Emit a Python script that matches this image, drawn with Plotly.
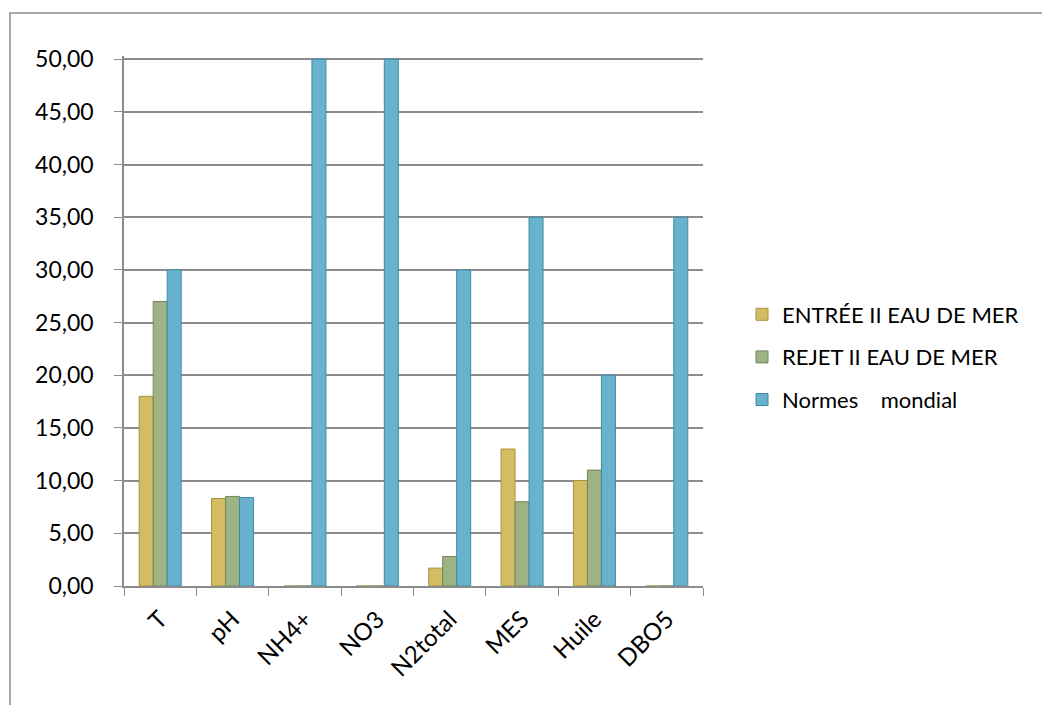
import plotly.graph_objects as go

categories = ["T", "pH", "NH4+", "NO3", "N2total", "MES", "Huile", "DBO5"]
entree = [18.0, 8.3, 0.0, 0.0, 1.7, 13.0, 10.0, 0.0]
rejet = [27.0, 8.5, 0.0, 0.0, 2.8, 8.0, 11.0, 0.0]
normes = [30.0, 8.4, 50.0, 50.0, 30.0, 35.0, 20.0, 35.0]
series_names = ["ENTRÉE II EAU DE MER", "REJET II EAU DE MER", "Normes    mondial"]
y_ticks = [0, 5, 10, 15, 20, 25, 30, 35, 40, 45, 50]

colors = ["#D3BD62", "#9DB383", "#69B2CE"]
edge = ["#A8943E", "#71875A", "#3F8AA6"]

W, H = 1042, 705
L, R, T, B = 124, 339, 56, 119

fig = go.Figure()
for i, (name, vals) in enumerate(zip(series_names, [entree, rejet, normes])):
    fig.add_trace(go.Bar(
        x=categories, y=vals, name=name,
        marker=dict(color=colors[i], line=dict(color=edge[i], width=1)),
        legendgroup=f"g{i}",
    ))

pw = W - L - R
ph = H - T - B

def px_x(p):
    return (p - L) / pw

def px_y(p):
    return (H - B - p) / ph

fig.add_shape(type="rect", xref="paper", yref="paper",
              x0=px_x(10), x1=px_x(1060), y0=px_y(13), y1=px_y(720),
              line=dict(color="#8C8C8C", width=1.5), fillcolor="rgba(0,0,0,0)", layer="below")

fig.update_layout(
    width=W, height=H,
    margin=dict(l=L, r=R, t=T, b=B),
    paper_bgcolor="white", plot_bgcolor="white",
    barmode="group", bargap=0.42, bargroupgap=0.0,
    separators=", ",
    font=dict(family="Lato, Carlito, sans-serif", size=21, color="#000000"),
    showlegend=True,
    legend=dict(x=px_x(742), xanchor="left", y=px_y(357), yanchor="middle",
                font=dict(size=22), tracegroupgap=11, bgcolor="rgba(0,0,0,0)"),
    xaxis=dict(showgrid=False, showline=True, linecolor="#8C8C8C", linewidth=1.5,
               ticks="outside", ticklen=8, tickcolor="#8C8C8C", tickangle=-45,
               tickson="boundaries", ticklabelstandoff=8, tickfont=dict(size=24)),
    yaxis=dict(range=[0, 50.3], tickvals=y_ticks, tickformat=".2f",
               showgrid=True, gridcolor="#8C8C8C", gridwidth=1.5,
               showline=True, linecolor="#8C8C8C", linewidth=1.5,
               zeroline=False,
               ticks="outside", ticklen=8, tickcolor="#8C8C8C",
               ticklabelstandoff=16, tickfont=dict(size=23)),
)

fig.write_html("out.html")
